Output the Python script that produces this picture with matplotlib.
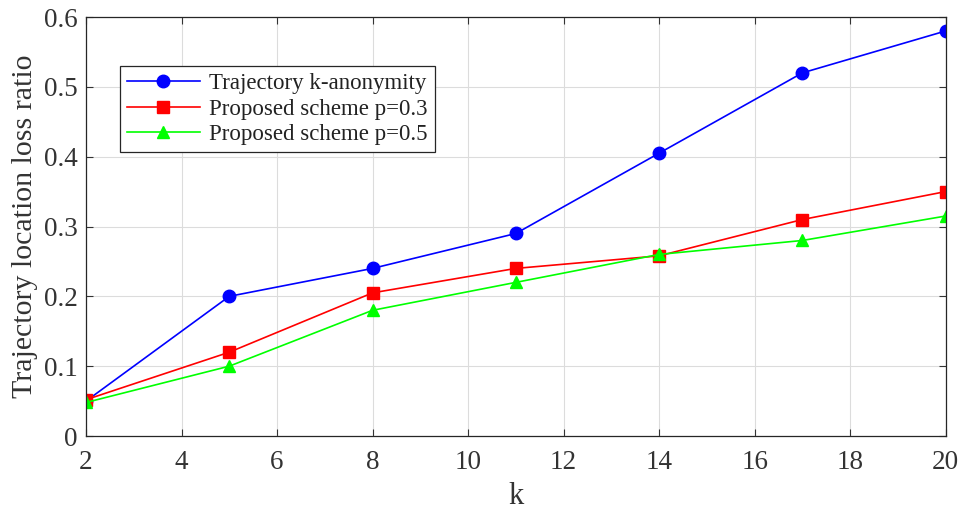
import matplotlib.pyplot as plt

# values
k_values = [2, 5, 8, 11, 14, 17, 20]
traj_kanon = [0.05, 0.20, 0.24, 0.29, 0.405, 0.52, 0.58]
scheme_p03 = [0.052, 0.12, 0.205, 0.24, 0.258, 0.31, 0.35]
scheme_p05 = [0.048, 0.10, 0.18, 0.22, 0.26, 0.28, 0.315]

series_labels = ['Trajectory k-anonymity', 'Proposed scheme p=0.3', 'Proposed scheme p=0.5']

plt.rcParams['font.family'] = ['Liberation Serif', 'DejaVu Serif']

fig = plt.figure(figsize=(9.63, 5.09), dpi=100)
ax = fig.add_axes([0.0893, 0.1434, 0.8927, 0.8232])

ax.plot(k_values, traj_kanon, color='#0000ff', marker='o', markersize=9, linewidth=1.2, label=series_labels[0])
ax.plot(k_values, scheme_p03, color='#ff0000', marker='s', markersize=8, linewidth=1.2, label=series_labels[1])
ax.plot(k_values, scheme_p05, color='#00ff00', marker='^', markersize=9, linewidth=1.2, label=series_labels[2])

ax.set_xlim(2, 20)
ax.set_ylim(0, 0.6)
ax.set_xticks(range(2, 21, 2))
ax.set_yticks([0, 0.1, 0.2, 0.3, 0.4, 0.5, 0.6])
ax.set_yticklabels(['0', '0.1', '0.2', '0.3', '0.4', '0.5', '0.6'])
ax.tick_params(direction='in', labelsize=19.5, length=5, width=0.8, colors='#333333',
               top=True, right=True)
ax.tick_params(axis='y', pad=6)
ax.tick_params(axis='x', pad=10)
for s in ax.spines.values():
    s.set_color('#262626')
    s.set_linewidth(0.9)
ax.grid(True, color='#dcdcdc', linewidth=0.8)
ax.set_axisbelow(True)

ax.set_xlabel('k', fontsize=22, color='#333333', labelpad=5)
ax.set_ylabel('Trajectory location loss ratio', fontsize=21.5, color='#333333', labelpad=4)

leg = ax.legend(loc='upper left', bbox_to_anchor=(0.026, 0.91), fontsize=16.5,
                fancybox=False, edgecolor='#262626', framealpha=1,
                handlelength=3.2, borderpad=0.3, labelspacing=0.2, handletextpad=0.4)
leg.get_frame().set_linewidth(0.9)
for t in leg.get_texts():
    t.set_color('#222222')

fig.savefig('out.png', dpi=100)
